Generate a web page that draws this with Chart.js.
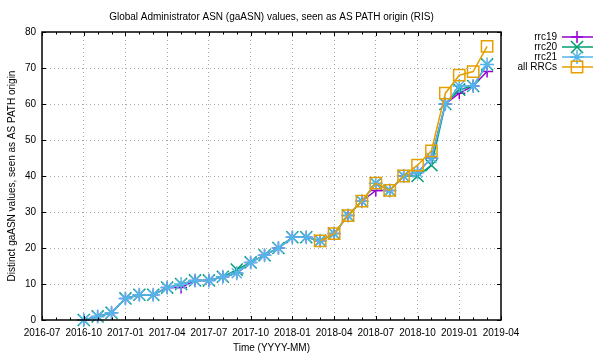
<!DOCTYPE html>
<html>
<head>
<meta charset="utf-8">
<script src="https://cdn.jsdelivr.net/npm/chart.js@4/dist/chart.umd.min.js"></script>
<style>
html, body { margin: 0; padding: 0; background: #fff; }
#wrap { width: 600px; height: 360px; }
</style>
</head>
<body>
<div id="wrap"><canvas id="gaChart" width="600" height="360"></canvas></div>
<script>
// monthly samples, 2016-10 .. 2019-03
var months = ['2016-10', '2016-11', '2016-12', '2017-01', '2017-02', '2017-03',
  '2017-04', '2017-05', '2017-06', '2017-07', '2017-08', '2017-09',
  '2017-10', '2017-11', '2017-12', '2018-01', '2018-02', '2018-03',
  '2018-04', '2018-05', '2018-06', '2018-07', '2018-08', '2018-09',
  '2018-10', '2018-11', '2018-12', '2019-01', '2019-02', '2019-03'];

var rrc19 = [0, 1, 2, 6, 7, 7, 9, 9, 11, 11, 12, 13, 16, 18, 20, 23, 23, 22,
  24, 29, 33, 36, 36, 40, 41, 45, 60, 63, 65, 69];
var rrc20 = [0, 1, 2, 6, 7, 7, 9, 10, 11, 11, 12, 14, 16, 18, 20, 23, 23, 22,
  24, 29, 33, 38, 36, 40, 40, 43, 60, 64, 65, 71];
var rrc21 = [0, 1, 2, 6, 7, 7, 9, 10, 11, 11, 12, 13, 16, 18, 20, 23, 23, 22,
  24, 29, 33, 38, 36, 40, 41, 45, 60, 65, 65, 71];
var allRRCs = [null, null, null, null, null, null, null, null, null, null, null, null,
  null, null, null, null, null, 22, 24, 29, 33, 38, 36, 40, 43, 47, 63, 68, 69, 76];

var tickLabels = ['2016-07', '2016-10', '2017-01', '2017-04', '2017-07', '2017-10',
  '2018-01', '2018-04', '2018-07', '2018-10', '2019-01', '2019-04'];

var fontFamily = '"Liberation Sans", Arial, Helvetica, sans-serif';

// months since 2016-07
function monthIndex(s) {
  var p = s.split('-');
  return (parseInt(p[0], 10) - 2016) * 12 + (parseInt(p[1], 10) - 7);
}

function points(values) {
  var out = [];
  for (var i = 0; i < values.length; i++) {
    if (values[i] !== null) out.push({ x: monthIndex(months[i]), y: values[i] });
  }
  return out;
}

function series(label, values, color, style, radius, order) {
  return {
    label: label,
    data: points(values),
    borderColor: color,
    backgroundColor: color,
    borderWidth: 1.5,
    pointStyle: style,
    pointRadius: radius,
    pointBorderWidth: 1.5,
    pointBorderColor: color,
    pointBackgroundColor: 'rgba(0,0,0,0)',
    tension: 0,
    clip: false,
    order: order
  };
}

// border box with inward ticks on all four sides
var frame = {
  id: 'frame',
  afterDatasetsDraw: function (chart) {
    var ctx = chart.ctx, a = chart.chartArea;
    var xs = chart.scales.x, ys = chart.scales.y;
    ctx.save();
    ctx.strokeStyle = '#000';
    ctx.lineWidth = 1;
    ctx.beginPath();
    for (var m = xs.min; m <= xs.max; m++) {
      var px = Math.round(xs.getPixelForValue(m)) + 0.5;
      var len = m % 3 === 0 ? 4 : 2.5;
      ctx.moveTo(px, a.bottom); ctx.lineTo(px, a.bottom - len);
      ctx.moveTo(px, a.top); ctx.lineTo(px, a.top + len);
    }
    for (var v = ys.min; v <= ys.max; v += 10) {
      var py = Math.round(ys.getPixelForValue(v)) + 0.5;
      ctx.moveTo(a.left, py); ctx.lineTo(a.left + 4, py);
      ctx.moveTo(a.right, py); ctx.lineTo(a.right - 4, py);
    }
    ctx.stroke();
    ctx.lineWidth = 1.5;
    ctx.strokeRect(a.left, a.top, a.right - a.left, a.bottom - a.top);
    ctx.restore();
  }
};

// gnuplot-style key: text right aligned, then line sample with marker
var keyBox = {
  id: 'keyBox',
  afterDraw: function (chart) {
    var ctx = chart.ctx;
    var drawPoint = Chart.helpers && Chart.helpers.drawPoint;
    chart.data.datasets.forEach(function (ds, i) {
      var y = 37 + i * 10;
      ctx.save();
      ctx.fillStyle = '#000';
      ctx.font = '10px ' + fontFamily;
      ctx.textAlign = 'right';
      ctx.textBaseline = 'middle';
      ctx.fillText(ds.label, 557, y);
      ctx.strokeStyle = ds.borderColor;
      ctx.lineWidth = ds.borderWidth;
      ctx.beginPath();
      ctx.moveTo(562, y);
      ctx.lineTo(593, y);
      ctx.stroke();
      if (drawPoint) {
        ctx.lineWidth = ds.pointBorderWidth;
        ctx.fillStyle = 'rgba(0,0,0,0)';
        drawPoint(ctx, { pointStyle: ds.pointStyle, radius: ds.pointRadius, borderWidth: ds.pointBorderWidth, rotation: 0 }, 577, y);
      }
      ctx.restore();
    });
  }
};

Chart.defaults.font.family = fontFamily;
Chart.defaults.font.size = 10;
Chart.defaults.color = '#000';

var gridDots = function (c) {
  return (c.index === 0 || c.index === c.chart.scales[c.scale.id].ticks.length - 1) ? 'rgba(0,0,0,0)' : '#a8a8a8';
};

new Chart(document.getElementById('gaChart'), {
  type: 'line',
  data: {
    datasets: [
      series('rrc19', rrc19, '#9400d3', 'cross', 6, 3),
      series('rrc20', rrc20, '#009e73', 'crossRot', 8.5, 2),
      series('rrc21', rrc21, '#56b4e9', 'star', 7, 1),
      series('all RRCs', allRRCs, '#e69f00', 'rect', 8, 0)
    ]
  },
  options: {
    responsive: false,
    animation: false,
    events: [],
    layout: { padding: { left: 0, right: 99, top: 0, bottom: 0 } },
    plugins: {
      legend: { display: false },
      tooltip: { enabled: false },
      title: {
        display: true,
        fullSize: false,
        text: 'Global Administrator ASN (gaASN) values, seen as AS PATH origin (RIS)',
        font: { size: 10, weight: 'normal' },
        color: '#000',
        padding: { top: 11, bottom: 9 }
      }
    },
    scales: {
      x: {
        type: 'linear',
        min: 0,
        max: 33,
        afterFit: function (s) { s.height = 40; },
        ticks: {
          stepSize: 3,
          padding: 7,
          maxRotation: 0,
          autoSkip: false,
          callback: function (v) { return tickLabels[v / 3]; }
        },
        grid: { drawTicks: false, color: gridDots, lineWidth: 1 },
        border: { display: false, dash: [1, 3] },
        title: { display: true, text: 'Time (YYYY-MM)', padding: { top: 0, bottom: 6 } }
      },
      y: {
        min: 0,
        max: 80,
        afterFit: function (s) { s.width = 42; },
        ticks: { stepSize: 10, padding: 6 },
        grid: { drawTicks: false, color: gridDots, lineWidth: 1 },
        border: { display: false, dash: [1, 3] },
        title: { display: true, text: 'Distinct gaASN values, seen as AS PATH origin', padding: { top: 6, bottom: 0 } }
      }
    }
  },
  plugins: [frame, keyBox]
});
</script>
</body>
</html>
